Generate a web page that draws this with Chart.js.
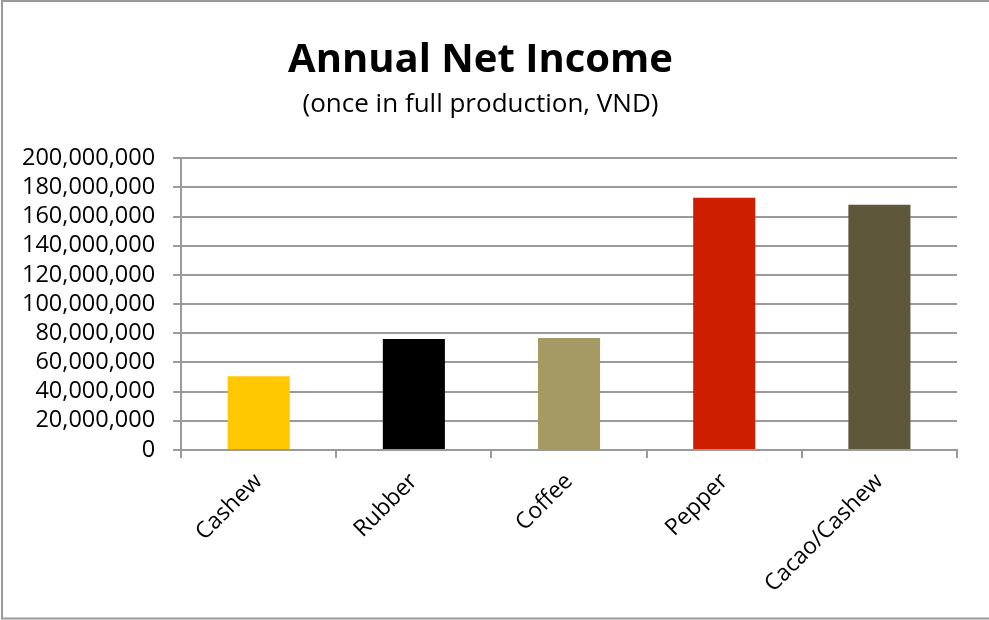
<!DOCTYPE html>
<html>
<head>
<meta charset="utf-8">
<script src="https://cdn.jsdelivr.net/npm/chart.js@4.4.0/dist/chart.umd.min.js"></script>
<style>
    html, body { margin: 0; padding: 0; background: #fff; }
    #wrap { width: 989px; height: 620px; position: relative; }
</style>
</head>
<body>
<div id="wrap"><canvas id="income-chart"></canvas></div>
<script>
const crops = ['Cashew', 'Rubber', 'Coffee', 'Pepper', 'Cacao/Cashew'];
const netIncome = [50500000, 76000000, 76700000, 172800000, 168000000];
const barColors = ['#FFC800', '#000000', '#A59A64', '#CD1E00', '#5E573A'];
const yTicks = [0, 20000000, 40000000, 60000000, 80000000, 100000000,
    120000000, 140000000, 160000000, 180000000, 200000000];

(function () {
    renderIncomeChart();
})();

function renderIncomeChart() {
    const elm = document.getElementById('income-chart');
    if (!elm) return;

    // grey frame round the chart, like the spreadsheet chart box
    const framePlugin = {
        id: 'frame',
        afterDraw(chart) {
            const ctx = chart.ctx;
            ctx.save();
            ctx.strokeStyle = '#9a9a9a';
            ctx.lineWidth = 2;
            ctx.beginPath();
            ctx.moveTo(989, 1);
            ctx.lineTo(2, 1);
            ctx.lineTo(2, 618.5);
            ctx.lineTo(989, 618.5);
            ctx.stroke();
            ctx.restore();
        },
    };

    new Chart(elm.getContext('2d'), {
        type: 'bar',
        data: {
            labels: crops,
            datasets: [{
                data: netIncome,
                backgroundColor: barColors,
                borderWidth: 0,
                barPercentage: 0.4,
                categoryPercentage: 1,
            }],
        },
        plugins: [framePlugin],
        options: {
            responsive: true,
            maintainAspectRatio: false,
            animation: false,
            devicePixelRatio: 1,
            layout: {
                padding: { left: 4, right: 32, top: 0, bottom: 12 },
            },
            plugins: {
                legend: { display: false },
                tooltip: { enabled: false },
                title: {
                    display: true,
                    text: 'Annual Net Income',
                    color: '#000',
                    font: { family: 'Open Sans', size: 40, weight: 'bold' },
                    padding: { top: 37, bottom: 4 },
                },
                subtitle: {
                    display: true,
                    text: '(once in full production, VND)',
                    color: '#000',
                    font: { family: 'Open Sans', size: 26 },
                    padding: { top: 0, bottom: 38 },
                },
            },
            scales: {
                x: {
                    grid: {
                        display: true,
                        drawOnChartArea: false,
                        drawTicks: true,
                        tickLength: 8,
                        color: '#9a9a9a',
                        lineWidth: 2,
                        offset: true,
                    },
                    border: { display: true, color: '#9a9a9a', width: 2 },
                    ticks: {
                        color: '#000',
                        font: { family: 'Open Sans', size: 23 },
                        minRotation: 45,
                        maxRotation: 45,
                        padding: 10,
                    },
                },
                y: {
                    min: 0,
                    max: 200000000,
                    afterBuildTicks: axis => {
                        axis.ticks = yTicks.map(v => ({ value: v }));
                    },
                    grid: {
                        color: '#9a9a9a',
                        lineWidth: 2,
                        tickLength: 8,
                    },
                    border: { display: true, color: '#9a9a9a', width: 2 },
                    ticks: {
                        autoSkip: false,
                        color: '#000',
                        font: { family: 'Open Sans', size: 23.5 },
                        padding: 18,
                        callback: value => value.toLocaleString('en-US'),
                    },
                },
            },
        },
    });
}
</script>
</body>
</html>
